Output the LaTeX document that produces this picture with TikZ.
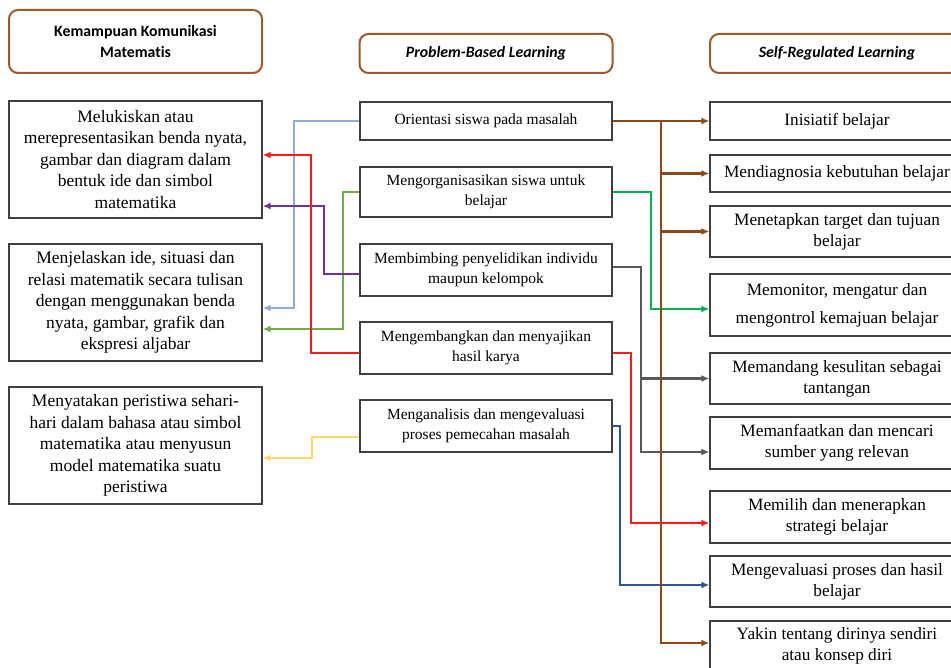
\documentclass[tikz,border=0pt]{standalone}
\usepackage{fontspec}
\setmainfont{Liberation Serif}
\newfontfamily\hdrfont[Ligatures={NoCommon,NoRequired,NoContextual,NoDiscretionary}]{Carlito}
\usetikzlibrary{arrows.meta,calc}
\definecolor{hdrbrown}{HTML}{9A5A2E}
\definecolor{cbrown}{HTML}{8B4A1C}
\definecolor{cgreen}{HTML}{00B050}
\definecolor{cgray}{HTML}{595959}
\definecolor{cred}{HTML}{FF1A1A}
\definecolor{cblue}{HTML}{2F5597}
\definecolor{clblue}{HTML}{8FAADC}
\definecolor{cpurple}{HTML}{7030A0}
\definecolor{clgreen}{HTML}{70AD47}
\definecolor{cyellow}{HTML}{FFD966}
\definecolor{boxline}{HTML}{404040}
\tikzset{
  hdr/.style={draw=hdrbrown, line width=2pt, rounded corners=9pt, align=center, inner sep=0pt,
    font=\hdrfont\bfseries\fontsize{15.8}{21}\selectfont},
  lbox/.style={draw=boxline, line width=1.3pt, align=center, inner sep=0pt, minimum width=253pt,
    font=\fontsize{17.5}{21.5}\selectfont},
  mbox/.style={draw=boxline, line width=1.3pt, align=center, inner sep=0pt, minimum width=252pt,
    font=\fontsize{15.5}{19.5}\selectfont},
  rbox/.style={draw=boxline, line width=1.3pt, align=center, inner sep=0pt, minimum width=254pt,
    font=\fontsize{17.3}{21}\selectfont},
  conn/.style={line width=2.2pt, -{Latex[length=8pt,width=7pt]}},
}
\begin{document}
\begin{tikzpicture}[x=1pt,y=-1pt]
\useasboundingbox[fill=white] (0,0) rectangle (951,668);
% headers
\node[hdr, minimum width=253pt, minimum height=63pt] (hk) at (135.5,41.5) {Kemampuan Komunikasi\\Matematis};
\node[hdr, minimum width=253pt, minimum height=39pt] (hp) at (486,53.5) {\itshape Problem-Based Learning};
\node[hdr, minimum width=254pt, minimum height=39pt] (hs) at (837,53.5) {\itshape Self-Regulated Learning};
% left boxes
\node[lbox, minimum height=117pt] (k1) at (135.5,159.5) {Melukiskan atau\\merepresentasikan benda nyata,\\gambar dan diagram dalam\\bentuk ide dan simbol\\matematika};
\node[lbox, minimum height=117pt] (k2) at (135.5,302.5) {Menjelaskan ide, situasi dan\\relasi matematik secara tulisan\\dengan menggunakan benda\\nyata, gambar, grafik dan\\ekspresi aljabar};
\node[lbox, minimum height=117pt] (k3) at (135.5,445.5) {Menyatakan peristiwa sehari-\\hari dalam bahasa atau simbol\\matematika atau menyusun\\model matematika suatu\\peristiwa};
% middle boxes
\node[mbox, minimum height=38pt] (p1) at (486,121) {Orientasi siswa pada masalah};
\node[mbox, minimum height=50pt] (p2) at (486,192) {Mengorganisasikan siswa untuk\\belajar};
\node[mbox, minimum height=52pt] (p3) at (486,270) {Membimbing penyelidikan individu\\maupun kelompok};
\node[mbox, minimum height=52pt] (p4) at (486,348) {Mengembangkan dan menyajikan\\hasil karya};
\node[mbox, minimum height=52pt] (p5) at (486,426) {Menganalisis dan mengevaluasi\\proses pemecahan masalah};
% right boxes
\node[rbox, minimum height=38pt] (s1) at (837,121) {Inisiatif belajar};
\node[rbox, minimum height=37pt] (s2) at (837,173.5) {Mendiagnosia kebutuhan belajar};
\node[rbox, minimum height=51pt] (s3) at (837,231.5) {Menetapkan target dan tujuan\\belajar};
\node[rbox, minimum height=62pt] (s4) at (837,305) {Memonitor, mengatur dan\\[7pt]mengontrol kemajuan belajar};
\node[rbox, minimum height=51pt] (s5) at (837,378.5) {Memandang kesulitan sebagai\\tantangan};
\node[rbox, minimum height=52pt] (s6) at (837,443) {Memanfaatkan dan mencari\\sumber yang relevan};
\node[rbox, minimum height=52pt] (s7) at (837,517) {Memilih dan menerapkan\\strategi belajar};
\node[rbox, minimum height=51pt] (s8) at (837,581.5) {Mengevaluasi proses dan hasil\\belajar};
\node[rbox, minimum height=50pt] (s9) at (837,646) {Yakin tentang dirinya sendiri\\atau konsep diri};
% bend coordinates
\coordinate (lb) at (294,308);
\coordinate (gl) at (343,329);
\coordinate (pu) at (324,206);
\coordinate (rd) at (311,155);
\coordinate (yl) at (312,458);
\coordinate (bt) at (661,643);
\coordinate (gr) at (651,309);
\coordinate (gy) at (641,452);
\coordinate (rr) at (631,523);
\coordinate (bl) at (620,585);
% left connectors
\draw[conn, clblue] (p1.west) -| (lb) -- (lb -| k2.east);
\draw[conn, clgreen] (p2.west) -| (gl) -- (gl -| k2.east);
\draw[conn, cpurple] ([yshift=-4pt]p3.west) -| (pu) -- (pu -| k1.east);
\draw[conn, cred] ([yshift=-5pt]p4.west) -| (rd) -- (rd -| k1.east);
\draw[conn, cyellow] ([yshift=-11pt]p5.west) -| (yl) -- (yl -| k3.east);
% right connectors
\draw[conn, cgreen] (p2.east) -| (gr) -- (gr -| s4.west);
\draw[conn, cgray] ([yshift=3pt]p3.east) -| (gy) -- (gy -| s6.west);
\draw[conn, cgray] (gy |- s5.west) -- (s5.west);
\draw[conn, cred] ([yshift=-5pt]p4.east) -| (rr) -- (rr -| s7.west);
\draw[conn, cblue] (p5.east) -| (bl) -- (bl -| s8.west);
\draw[conn, cbrown] (p1.east) -| (bt) -- (bt -| s9.west);
\draw[conn, cbrown] (bt |- s1.west) -- (s1.west);
\draw[conn, cbrown] (bt |- s2.west) -- (s2.west);
\draw[conn, cbrown] (bt |- s3.west) -- (s3.west);
\end{tikzpicture}
\end{document}
